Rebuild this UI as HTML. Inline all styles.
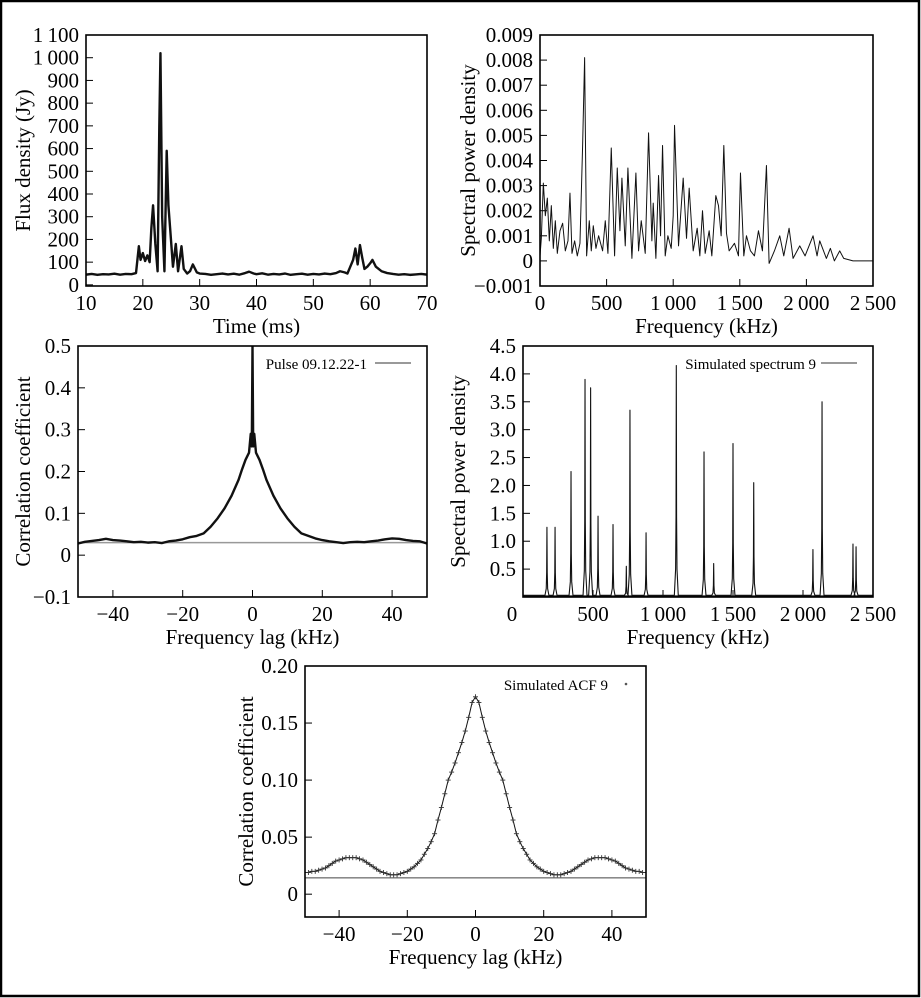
<!DOCTYPE html>
<html><head><meta charset="utf-8">
<style>
html,body{margin:0;padding:0;background:#fff;}
svg{display:block;}
text{font-family:"Liberation Serif","DejaVu Serif",serif;}
</style></head>
<body>
<svg id="fig" width="921" height="998" viewBox="0 0 921 998" xmlns="http://www.w3.org/2000/svg">
<rect x="1" y="1" width="918" height="995" fill="#fff" stroke="#000" stroke-width="2.5"/>
</svg>
<script>
// ---------- Panel 1 data: flux density vs time ----------
const fluxTime = [10,11,12,13,14,15,16,17,18,18.8,19.3,19.6,20,20.4,20.8,21.2,21.5,21.8,22.2,22.6,22.9,23.1,23.4,23.8,24.2,24.5,24.8,25.3,25.8,26.2,26.8,27.2,27.8,28.3,28.8,29.5,30,31,32,33,34,35,36,37,38,38.7,39.5,40,41,42,43,44,45,46,47,48,49,50,51,52,53,54,54.7,55.5,56,56.5,57,57.4,57.8,58.2,58.6,59,59.5,60,60.4,61,61.5,62,63,64,65,66,67,68,69,70];
const fluxValue = [45,48,44,47,46,49,45,48,47,52,170,110,140,105,130,100,250,350,180,60,700,1020,300,60,590,350,250,80,180,60,170,70,50,60,90,55,50,48,44,47,50,46,49,45,52,58,50,47,51,45,48,46,50,44,47,49,45,48,46,50,47,52,60,55,50,80,110,160,90,175,120,70,80,95,110,80,70,60,52,48,45,47,44,46,48,45];
const fluxXTicks = [10,20,30,40,50,60,70];
const fluxYTicks = [0,100,200,300,400,500,600,700,800,900,1000,1100];
const fluxYLabels = ["0","100","200","300","400","500","600","700","800","900","1\u2009000","1\u2009100"];

// ---------- Panel 2 data: observed spectrum ----------
const psdFreq = [0,10,25,40,55,70,85,100,115,130,150,170,190,210,225,240,260,280,300,320,335,350,370,385,400,420,440,470,490,510,535,560,580,600,615,640,660,690,720,740,760,790,815,840,850,870,890,905,920,940,960,985,1000,1010,1040,1075,1100,1120,1150,1180,1200,1220,1240,1270,1290,1320,1340,1360,1380,1400,1420,1460,1490,1505,1530,1550,1580,1610,1640,1670,1700,1720,1760,1800,1830,1870,1900,1950,1990,2050,2080,2100,2150,2180,2210,2250,2280,2350,2420,2500];
const psdValue = [0.0002,0.0009,0.0031,0.0018,0.0025,0.0008,0.0022,0.0005,0.0016,0.0003,0.0012,0.0015,0.0004,0.0008,0.0027,0.0003,0.0008,0.0002,0.0007,0.0046,0.0081,0.0002,0.0016,0.0004,0.0014,0.0005,0.0010,0.0004,0.0016,0.0003,0.0045,0.0002,0.0037,0.0012,0.0033,0.0006,0.0037,0.0001,0.0035,0.0004,0.0016,0.0003,0.0051,0.0008,0.0023,0.0001,0.0034,0.0010,0.0046,0.0002,0.0010,0.0005,0.0018,0.0054,0.0006,0.0033,0.0009,0.0029,0.0004,0.0013,0.0002,0.0020,0.0003,0.0012,0.0002,0.0026,0.0022,0.0010,0.0046,0.0011,0.0004,0.0007,0.0002,0.0035,0.0002,0.0010,0.0004,0.0002,0.0012,0.0004,0.0038,-0.0001,0.0004,0.0010,0.0002,0.0013,0.0001,0.0006,0.0002,0.0010,0.0002,0.0008,0.0001,0.0005,0.0000,0.0004,0.0001,0.0000,0.0000,0.0000];
const psdXTicks = [0,500,1000,1500,2000,2500];
const psdXLabels = ["0","500","1\u2009000","1\u2009500","2\u2009000","2\u2009500"];
const psdYTicks = [-0.001,0,0.001,0.002,0.003,0.004,0.005,0.006,0.007,0.008,0.009];
const psdYLabels = ["\u22120.001","0","0.001","0.002","0.003","0.004","0.005","0.006","0.007","0.008","0.009"];

// ---------- Panel 3 data: observed ACF ----------
const acfLag = [-50,-48,-46,-44,-42,-40,-38,-36,-34,-32,-30,-28,-26,-24,-22,-20,-18,-16,-14,-12,-10,-8,-6,-4,-3,-2,-1,-0.5,-0.2,0,0.2,0.5,1,2,3,4,6,8,10,12,14,16,18,20,22,24,26,28,30,32,34,36,38,40,42,44,46,48,50];
const acfValue = [0.028,0.032,0.034,0.036,0.039,0.036,0.035,0.033,0.031,0.032,0.030,0.031,0.029,0.033,0.035,0.038,0.043,0.046,0.052,0.068,0.088,0.112,0.142,0.180,0.205,0.228,0.245,0.29,0.26,0.50,0.26,0.29,0.245,0.228,0.205,0.180,0.142,0.112,0.088,0.068,0.052,0.046,0.040,0.036,0.033,0.031,0.029,0.031,0.032,0.031,0.033,0.035,0.038,0.040,0.039,0.036,0.034,0.033,0.028];
const acfBase = 0.03;
const acfXTicks = [-40,-20,0,20,40];
const acfXLabels = ["\u221240","\u221220","0","20","40"];
const acfYTicks = [-0.1,0,0.1,0.2,0.3,0.4,0.5];
const acfYLabels = ["\u22120.1","0","0.1","0.2","0.3","0.4","0.5"];

// ---------- Panel 4 data: simulated spectrum ----------
const simFreq = [171,229,343,443,483,536,643,738,764,879,1095,1293,1362,1500,1648,2071,2136,2357,2379];
const simHeight = [1.25,1.25,2.25,3.9,3.75,1.45,1.3,0.55,3.35,1.15,4.15,2.6,0.6,2.75,2.05,0.85,3.5,0.95,0.9];
const simFloor = 0.03;
const simXTicks = [0,500,1000,1500,2000,2500];
const simXLabels = ["0","500","1\u2009000","1\u2009500","2\u2009000","2\u2009500"];
const simYTicks = [0.5,1.0,1.5,2.0,2.5,3.0,3.5,4.0,4.5];
const simYLabels = ["0.5","1.0","1.5","2.0","2.5","3.0","3.5","4.0","4.5"];

// ---------- Panel 5 data: simulated ACF (lag 0..50, symmetric) ----------
const simAcfHalf = [0.173,0.168,0.155,0.143,0.133,0.124,0.115,0.107,0.100,0.088,0.076,0.065,0.053,0.046,0.040,0.035,0.030,0.027,0.024,0.022,0.020,0.019,0.018,0.017,0.017,0.017,0.018,0.019,0.020,0.022,0.024,0.026,0.028,0.030,0.031,0.032,0.032,0.032,0.032,0.031,0.030,0.029,0.027,0.025,0.023,0.022,0.021,0.020,0.020,0.019,0.019];
const simAcfBase = 0.0143;
const simAcfXTicks = [-40,-20,0,20,40];
const simAcfXLabels = ["\u221240","\u221220","0","20","40"];
const simAcfYTicks = [0,0.05,0.10,0.15,0.20];
const simAcfYLabels = ["0","0.05","0.10","0.15","0.20"];

const NS = "http://www.w3.org/2000/svg";
const svg = document.getElementById('fig');
function mk(tag, attrs, parent){
  const e = document.createElementNS(NS, tag);
  for (const k in attrs) e.setAttribute(k, attrs[k]);
  (parent||svg).appendChild(e);
  return e;
}
function txt(parent, x, y, s, size, anchor, rot){
  const t = mk('text', {x:x, y:y, 'font-size':size, 'font-family':'Liberation Serif, DejaVu Serif, serif', 'text-anchor':anchor||'middle', fill:'#000'}, parent);
  if (rot) t.setAttribute('transform', 'rotate(-90 '+x+' '+y+')');
  t.textContent = s;
  return t;
}
function panel(o){
  const g = mk('g', {});
  
  
  const sx = v => o.x0 + (v - o.xmin) / (o.xmax - o.xmin) * (o.x1 - o.x0);
  const sy = v => o.y1 - (v - o.ymin) / (o.ymax - o.ymin) * (o.y1 - o.y0);
  const xa = mk('g', {}, g);
  
  
  o.xt.forEach((v, i) => {
    const px = sx(v);
    if (v !== o.xmin && v !== o.xmax) mk('line', {x1:px, x2:px, y1:o.y1, y2:o.y1-7, stroke:'#000', 'stroke-width':1}, xa);
    const lx = (o.zeroLeft && v === o.xmin) ? px - 11 : px;
    txt(xa, lx, o.y1 + 24, o.xl ? o.xl[i] : String(v), 21, 'middle');
  });
  const ya = mk('g', {}, g);
  
  
  o.yt.forEach((v, i) => {
    const py = sy(v);
    if (v !== o.ymin && v !== o.ymax) mk('line', {x1:o.x0, x2:o.x0+7, y1:py, y2:py, stroke:'#000', 'stroke-width':1}, ya);
    txt(ya, o.x0 - 7, py + 7, o.yl[i], 21, 'end');
  });
  const xtEl = txt(g, (o.x0+o.x1)/2, o.y1 + 47, o.xtitle, 21, 'middle');
  
  
  const ytEl = txt(g, o.ytx, (o.y0+o.y1)/2, o.ytitle, 21, 'middle', true);
  
  
  const clipId = 'c' + o.name;
  const cp = mk('clipPath', {id:clipId}, g);
  mk('rect', {x:o.x0, y:o.y0, width:o.x1-o.x0, height:o.y1-o.y0}, cp);
  const plot = mk('g', {'clip-path':'url(#'+clipId+')'}, g);
  o.draw(plot, sx, sy);
  const frame = mk('rect', {x:o.x0, y:o.y0, width:o.x1-o.x0, height:o.y1-o.y0, fill:'none', stroke:'#000', 'stroke-width':1.6}, g);
  
  
  if (o.legend) o.legend(g);
  return g;
}
function poly(parent, xs, ys, sx, sy, attrs, name){
  const pts = xs.map((x, i) => sx(x).toFixed(2) + ',' + sy(ys[i]).toFixed(2)).join(' ');
  const p = mk('polyline', Object.assign({points:pts, fill:'none', stroke:'#111', 'stroke-width':1.3, 'stroke-linejoin':'round'}, attrs||{}), parent);
  
  
  return p;
}

panel({name:'flux-panel', x0:86, x1:427, y0:35, y1:286, xmin:10, xmax:70, ymin:-5, ymax:1100,
  xt:fluxXTicks, yt:fluxYTicks, yl:fluxYLabels, xtitle:'Time (ms)', ytitle:'Flux density (Jy)', ytx:30,
  draw:(p, sx, sy) => { poly(p, fluxTime, fluxValue, sx, sy, {'stroke-width':2.4}, 'flux-series'); }});

panel({name:'spectrum-panel', x0:540, x1:873, y0:35, y1:286, xmin:0, xmax:2500, ymin:-0.001, ymax:0.009,
  xt:psdXTicks, xl:psdXLabels, yt:psdYTicks, yl:psdYLabels, xtitle:'Frequency (kHz)', ytitle:'Spectral power density', ytx:475,
  draw:(p, sx, sy) => { poly(p, psdFreq, psdValue, sx, sy, {'stroke-width':1}, 'spectrum-series'); }});

panel({name:'acf-panel', x0:78, x1:427, y0:346, y1:597, xmin:-50, xmax:50, ymin:-0.1, ymax:0.5,
  xt:acfXTicks, xl:acfXLabels, yt:acfYTicks, yl:acfYLabels, xtitle:'Frequency lag (kHz)', ytitle:'Correlation coefficient', ytx:30,
  draw:(p, sx, sy) => {
    const b = mk('line', {x1:sx(-50), x2:sx(50), y1:sy(acfBase), y2:sy(acfBase), stroke:'#999', 'stroke-width':1.5}, p);
    
    
    poly(p, acfLag, acfValue, sx, sy, {'stroke-width':2.4}, 'acf-series');
  },
  legend:(g) => {
    const t = txt(g, 367, 369, 'Pulse 09.12.22-1', 15, 'end');
    
    
    mk('line', {x1:375, x2:411, y1:363, y2:363, stroke:'#333', 'stroke-width':1}, g);
  }});

panel({name:'simulated-spectrum-panel', x0:523, x1:873, y0:346, y1:597, xmin:0, xmax:2500, ymin:0, ymax:4.5,
  xt:simXTicks, xl:simXLabels, yt:simYTicks, yl:simYLabels, xtitle:'Frequency (kHz)', ytitle:'Spectral power density', ytx:465, zeroLeft:true,
  draw:(p, sx, sy) => {
    const xs = [0], ys = [simFloor];
    simFreq.forEach((f, i) => {
      const h = simHeight[i];
      xs.push(f-14, f-5, f-2, f, f+2, f+5, f+14);
      ys.push(simFloor, h*0.12, h*0.35, h, h*0.35, h*0.12, simFloor);
    });
    xs.push(2500); ys.push(simFloor);
    poly(p, xs, ys, sx, sy, {'stroke-width':1.1}, 'simulated-spectrum-series');
    const fl = mk('line', {x1:sx(0), x2:sx(2500), y1:sy(simFloor)+1, y2:sy(simFloor)+1, stroke:'#111', 'stroke-width':2}, p);
    
    
  },
  legend:(g) => {
    const t = txt(g, 816, 369, 'Simulated spectrum 9', 15, 'end');
    
    
    mk('line', {x1:821, x2:857, y1:363, y2:363, stroke:'#333', 'stroke-width':1}, g);
  }});

panel({name:'simulated-acf-panel', x0:305, x1:646, y0:666, y1:917, xmin:-50, xmax:50, ymin:-0.02, ymax:0.20,
  xt:simAcfXTicks, xl:simAcfXLabels, yt:simAcfYTicks, yl:simAcfYLabels, xtitle:'Frequency lag (kHz)', ytitle:'Correlation coefficient', ytx:253,
  draw:(p, sx, sy) => {
    const b = mk('line', {x1:sx(-50), x2:sx(50), y1:sy(simAcfBase), y2:sy(simAcfBase), stroke:'#444', 'stroke-width':1}, p);
    
    
    const lags = [], vals = [];
    for (let i = simAcfHalf.length - 1; i > 0; i--) { lags.push(-i); vals.push(simAcfHalf[i]); }
    for (let i = 0; i < simAcfHalf.length; i++) { lags.push(i); vals.push(simAcfHalf[i]); }
    poly(p, lags, vals, sx, sy, {'stroke-width':1}, 'simulated-acf-line');
    const mg = mk('g', {stroke:'#333', 'stroke-width':0.9}, p);
    
    
    lags.forEach((l, i) => {
      const px = sx(l), py = sy(vals[i]);
      mk('line', {x1:px-2.5, x2:px+2.5, y1:py, y2:py}, mg);
      mk('line', {x1:px, x2:px, y1:py-2.5, y2:py+2.5}, mg);
    });
  },
  legend:(g) => {
    const t = txt(g, 608, 690, 'Simulated ACF 9', 15, 'end');
    
    
    mk('circle', {cx:626, cy:684, r:1.3, fill:'#555'}, g);
  }});
</script>
</body></html>
